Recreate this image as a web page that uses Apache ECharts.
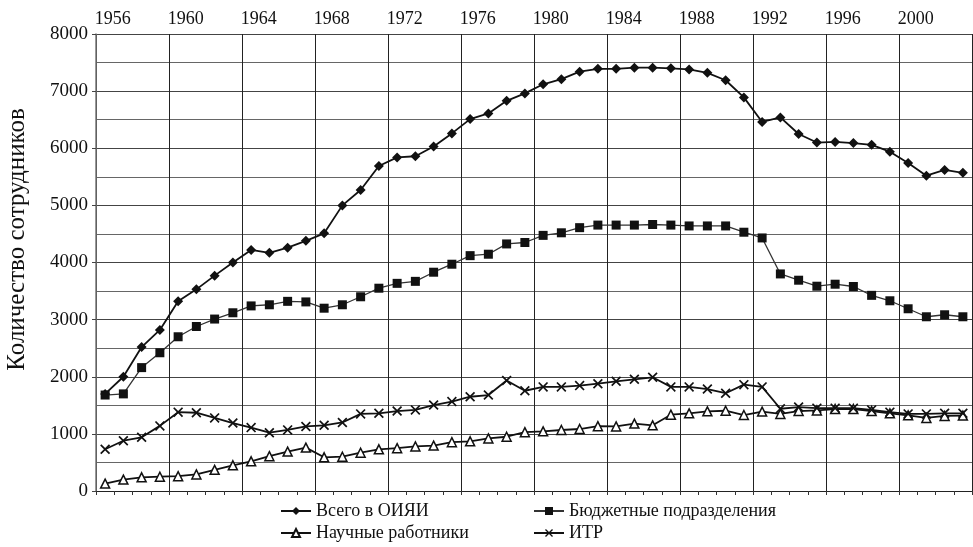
<!DOCTYPE html>
<html>
<head>
<meta charset="utf-8">
<script src="https://cdn.jsdelivr.net/npm/echarts@6/dist/echarts.min.js"></script>
<style>
    html, body { margin: 0; padding: 0; background: #fff; }
    #div_echarts { width: 973px; height: 547px; }
</style>
</head>
<body>
<div id="div_echarts"></div>
<script>
// годы (категории оси X)
var years = [];
for (var y = 1956; y <= 2003; y++) years.push(String(y));

// Всего в ОИЯИ
var totalStaff = [1700, 2000, 2520, 2820, 3320, 3530, 3770, 4000, 4220, 4170,
    4260, 4380, 4510, 5000, 5270, 5690, 5840, 5860, 6030, 6260,
    6510, 6610, 6830, 6960, 7120, 7210, 7340, 7390, 7390, 7410,
    7410, 7400, 7380, 7320, 7190, 6890, 6460, 6540, 6250, 6100,
    6110, 6090, 6060, 5940, 5740, 5520, 5620, 5570];

// Бюджетные подразделения
var budgetDivisions = [1680, 1700, 2160, 2420, 2700, 2880, 3010, 3120, 3240, 3260,
    3320, 3310, 3200, 3260, 3400, 3550, 3635, 3670, 3830, 3970,
    4120, 4145, 4325, 4350, 4475, 4520, 4610, 4655, 4655, 4655,
    4665, 4655, 4640, 4640, 4640, 4530, 4430, 3800, 3690, 3585,
    3620, 3580, 3425, 3330, 3190, 3050, 3085, 3050];

// Научные работники
var researchers = [130, 200, 240, 250, 260, 290, 370, 450, 520, 610,
    690, 760, 590, 600, 670, 730, 750, 780, 795, 855,
    870, 920, 950, 1030, 1045, 1068, 1085, 1135, 1130, 1180,
    1150, 1336, 1360, 1395, 1405, 1330, 1390, 1350, 1400, 1410,
    1435, 1435, 1400, 1360, 1325, 1280, 1315, 1320];

// ИТР
var engineers = [730, 880, 940, 1140, 1380, 1370, 1280, 1190, 1110, 1020,
    1070, 1130, 1150, 1200, 1350, 1360, 1400, 1420, 1505, 1565,
    1650, 1680, 1935, 1755, 1822, 1822, 1845, 1878, 1920, 1955,
    1990, 1822, 1822, 1785, 1712, 1862, 1822, 1440, 1470, 1450,
    1450, 1450, 1420, 1380, 1350, 1350, 1360, 1360];

var seriesNames = ['Всего в ОИЯИ', 'Бюджетные подразделения', 'Научные работники', 'ИТР'];

var serifFont = '"Liberation Serif", "DejaVu Serif", serif';
var crossSymbol = 'path://M0,1.2L1.2,0L5,3.8L8.8,0L10,1.2L6.2,5L10,8.8L8.8,10L5,6.2L1.2,10L0,8.8L3.8,5Z';

var initEcharts = function () {
    var myChart = echarts.init(document.getElementById('div_echarts'), null, { renderer: 'canvas' });
    var legendText = { fontFamily: serifFont, fontSize: 18, color: '#111' };
    var option = {
        animation: false,
        backgroundColor: '#fff',
        textStyle: { fontFamily: serifFont },
        grid: { left: 96, right: 1, top: 34, bottom: 56, outerBoundsMode: 'none' },
        legend: [
            {
                orient: 'vertical', left: 280, top: 502, height: 80, padding: 0,
                itemWidth: 30, itemHeight: 10, itemGap: 4,
                textStyle: legendText,
                data: [seriesNames[0], seriesNames[2]]
            },
            {
                orient: 'vertical', left: 533, top: 502, height: 80, padding: 0,
                itemWidth: 30, itemHeight: 10, itemGap: 4,
                textStyle: legendText,
                data: [seriesNames[1], seriesNames[3]]
            }
        ],
        xAxis: {
            type: 'category',
            position: 'top',
            data: years,
            boundaryGap: true,
            axisLine: { show: true, lineStyle: { color: '#222', width: 1 } },
            axisTick: { show: true, inside: true, interval: 0, length: 4, lineStyle: { color: '#333' } },
            axisLabel: {
                interval: 3, margin: 6, fontFamily: serifFont, fontSize: 18, color: '#111',
                padding: [0, 0, 0, 15]
            },
            splitLine: { show: true, interval: 3, lineStyle: { color: '#222', width: 1 } }
        },
        yAxis: {
            type: 'value',
            min: 0, max: 8000, interval: 1000,
            name: 'Количество сотрудников',
            nameLocation: 'middle',
            nameGap: 66,
            nameTextStyle: { fontFamily: serifFont, fontSize: 25, color: '#111', padding: [0, 0, 0, 46] },
            axisLine: { show: true, lineStyle: { color: '#777', width: 1.5 } },
            axisTick: { show: true, length: 4, lineStyle: { color: '#444' } },
            axisLabel: {
                margin: 8, fontFamily: serifFont, fontSize: 19, color: '#111',
                formatter: function (v) { return String(v); }
            },
            splitLine: { show: true, showMinLine: false, lineStyle: { color: '#444', width: 1 } },
            minorTick: { show: false, splitNumber: 2 },
            minorSplitLine: { show: true, lineStyle: { color: '#666', width: 1 } }
        },
        series: [
            {
                name: seriesNames[0], type: 'line', data: totalStaff,
                symbol: 'diamond', symbolSize: 10,
                lineStyle: { color: '#111', width: 1.8 },
                itemStyle: { color: '#111' }
            },
            {
                name: seriesNames[1], type: 'line', data: budgetDivisions,
                symbol: 'rect', symbolSize: 9,
                lineStyle: { color: '#333', width: 1.3 },
                itemStyle: { color: '#111' }
            },
            {
                name: seriesNames[2], type: 'line', data: researchers,
                symbol: 'triangle', symbolSize: 9,
                lineStyle: { color: '#111', width: 1.8 },
                itemStyle: { color: '#fff', borderColor: '#111', borderWidth: 1.5 }
            },
            {
                name: seriesNames[3], type: 'line', data: engineers,
                symbol: crossSymbol, symbolSize: 10,
                lineStyle: { color: '#111', width: 1.8 },
                itemStyle: { color: '#111' }
            }
        ]
    };
    myChart.setOption(option);
};

initEcharts();
</script>
</body>
</html>
